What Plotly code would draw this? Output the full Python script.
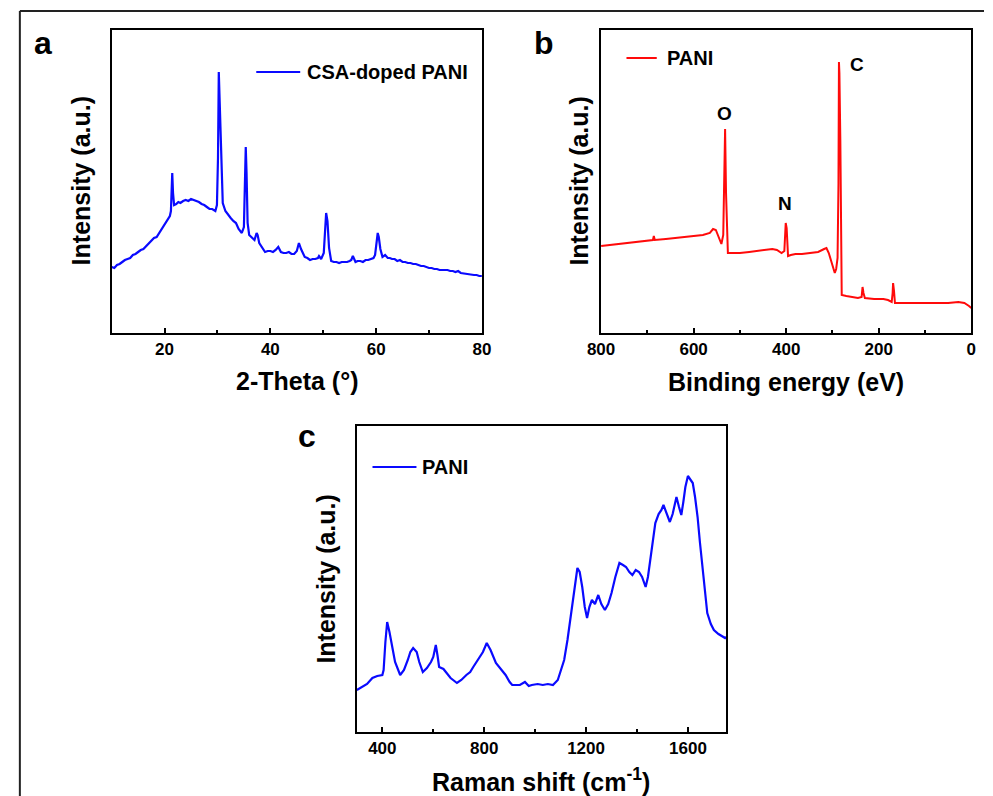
import plotly.graph_objects as go

# ---------------- data ----------------
# (a) XRD, CSA-doped PANI
xrd_theta = [10, 10.5, 11, 11.5, 12, 12.5, 13, 13.5, 14, 14.5, 15, 15.5, 16, 16.5, 17, 17.5, 18, 18.5, 19, 19.5,
             20, 20.5, 21.0, 21.2, 21.35, 21.45, 21.6, 21.8, 22.2, 22.6, 23, 23.5, 24, 24.5, 25, 25.5, 26, 26.5,
             27, 27.5, 28, 28.5, 29, 29.6, 29.9, 30.1, 30.25, 30.35, 30.45, 30.6, 30.8, 31.0, 31.5, 32, 32.5, 33,
             33.5, 34, 34.6, 35.0, 35.2, 35.35, 35.5, 35.7, 36.0, 36.5, 37.0, 37.4, 37.6, 37.9, 38.5, 39, 39.5, 40,
             40.5, 41, 41.5, 42, 42.5, 43, 43.5, 44, 44.5, 45, 45.4, 45.8, 46.5, 47, 47.5, 48, 48.5, 49, 49.2, 49.6,
             50.1, 50.4, 50.55, 50.8, 51.1, 51.5, 52, 52.5, 53, 53.5, 54, 54.5, 55, 55.3, 55.6, 56.1, 56.5, 57,
             57.5, 58, 58.5, 59, 59.5, 59.8, 60.1, 60.3, 60.5, 60.8, 61.2, 61.7, 62.2, 62.6, 63, 63.5, 64, 64.5,
             65, 65.5, 66, 66.5, 67, 67.5, 68, 68.5, 69, 69.5, 70, 70.5, 71, 71.5, 72, 72.5, 73, 73.5, 74, 74.5,
             75, 75.5, 76, 77, 77.5, 78, 78.5, 79, 79.5, 80]
xrd_int = [66, 65, 68, 69, 71, 73, 74, 75, 78, 79, 81, 83, 84, 87, 89, 92, 95, 96, 100, 104,
           108, 112, 117, 122, 150, 160, 140, 128, 129, 131, 130, 132, 133, 132, 134, 133, 132, 131,
           129, 128, 126, 124, 124, 122, 128, 175, 261, 240, 236, 190, 150, 130, 122, 118, 115, 112,
           110, 104, 100, 106, 150, 186, 160, 110, 98, 95, 93, 100, 98, 90, 85, 81, 82, 82,
           81, 83, 86, 81, 80, 80, 81, 79, 79, 82, 90, 84, 76, 75, 73, 74, 74, 75, 77, 74,
           80, 105, 120, 112, 85, 72, 71, 71, 70, 71, 71, 71, 72, 73, 77, 71, 72, 72,
           71, 73, 73, 74, 75, 78, 92, 100, 96, 84, 76, 78, 75, 75, 74, 74, 72, 73,
           71, 71, 70, 70, 69, 69, 68, 67, 67, 66, 65, 65, 64, 64, 63, 63, 63, 63, 62, 62,
           61, 62, 60, 59, 59, 58, 58, 58, 57, 57]

# (b) XPS survey, PANI
xps_be = [800, 780, 760, 740, 720, 700, 688, 686, 684, 660, 640, 620, 600, 580, 565, 558, 552, 545, 540, 536, 534,
          532, 530, 528, 526, 515, 500, 480, 460, 440, 430, 420, 410, 404, 401, 399, 396, 390, 380, 366, 350, 331,
          318, 313, 308, 302, 298, 295, 292, 289, 287, 286, 285, 283, 282, 281, 280, 270, 260, 245, 237, 235, 233,
          230, 210, 190, 180, 172, 170, 169, 167, 165, 150, 120, 80, 50, 28, 15, 5, 0]
xps_int = [87, 88, 89, 90, 91, 92, 93, 97, 93, 94, 95, 96, 97, 98, 100, 104, 103, 95, 89, 98, 150,
           204, 140, 95, 80, 80, 80, 81, 82, 83, 84, 83, 80, 82, 110, 105, 77, 78, 79, 79, 80, 81,
           84, 85, 80, 70, 63, 60, 64, 75, 150, 271, 260, 193, 100, 45, 38, 37, 36, 35, 36, 46, 40,
           35, 34, 34, 33, 31, 40, 50, 42, 30, 30, 30, 30, 30, 31, 30, 27, 25]
xps_peak_labels = ["O", "N", "C"]
xps_peak_pos = [534, 403, 247]
xps_peak_lab_int = [220, 130, 269]

# (c) Raman, PANI
raman_shift = [300, 320, 340, 361, 380, 400, 405, 412, 419, 428, 438, 450, 470, 485, 500, 510, 521, 535, 545, 559,
               575, 591, 600, 610, 617, 623, 640, 655, 668, 693, 710, 730, 745, 757, 770, 782, 795, 810, 825, 846,
               860, 884, 900, 910, 940, 960, 975, 987, 1010, 1030, 1050, 1070, 1089, 1100, 1114, 1127, 1140, 1155,
               1166, 1175, 1185, 1195, 1204, 1213, 1223, 1235, 1248, 1260, 1274, 1287, 1300, 1315, 1331, 1345,
               1357, 1370, 1382, 1395, 1408, 1420, 1434, 1443, 1453, 1462, 1472, 1485, 1496, 1504, 1515, 1529,
               1540, 1548, 1555, 1565, 1574, 1582, 1590, 1600, 1610, 1619, 1628, 1638, 1647, 1657, 1666, 1676,
               1690, 1702, 1720, 1735, 1746, 1750]
raman_int = [42, 45, 48, 54, 56, 57, 62, 90, 110, 100, 85, 70, 57, 62, 72, 80, 84, 80, 70, 60,
             64, 70, 75, 87, 76, 65, 63, 58, 54, 49, 52, 57, 60, 65, 70, 75, 80, 89, 82, 69,
             65, 57, 50, 47, 47, 50, 46, 47, 48, 47, 48, 47, 52, 60, 72, 92, 115, 145,
             164, 160, 145, 125, 114, 125, 132, 128, 137, 128, 122, 128, 139, 155, 169, 167,
             165, 160, 157, 162, 160, 155, 145, 155, 172, 190, 209, 218, 222, 227, 220, 210,
             218, 228, 235, 225, 217, 230, 245, 256, 252, 249, 235, 215, 190, 165, 140, 119,
             108, 102, 98, 96, 94, 95]

xrd_ticks = [20, 40, 60, 80]
xps_ticks = [800, 600, 400, 200, 0]
raman_ticks = [400, 800, 1200, 1600]

# ---------------- layout helpers ----------------
W, H = 993, 796
FONT = "Arial, 'Liberation Sans', Helvetica, sans-serif"
BLUE = "#0a0aff"
RED = "#ff0a0a"


def px(x):
    return x / W


def py(y):
    return 1 - y / H


panels = {
    "a": dict(x0=100, x1=479, y0=30, y1=333),
    "b": dict(x0=601, x1=980, y0=30, y1=333),
    "c": dict(x0=351, x1=729, y0=426, y1=732),
}

fig = go.Figure()
fig.add_trace(go.Scatter(x=xrd_theta, y=xrd_int, mode="lines", line=dict(color=BLUE, width=2.2),
                         name="CSA-doped PANI", xaxis="x", yaxis="y", showlegend=False))
fig.add_trace(go.Scatter(x=xps_be, y=xps_int, mode="lines", line=dict(color=RED, width=2),
                         name="PANI", xaxis="x2", yaxis="y2", showlegend=False))
fig.add_trace(go.Scatter(x=raman_shift, y=raman_int, mode="lines", line=dict(color=BLUE, width=2.2),
                         name="PANI", xaxis="x3", yaxis="y3", showlegend=False))


def xaxis(p, rng, ticks, anchor, minor_dtick):
    return dict(domain=[px(p["x0"]), px(p["x1"])], range=rng, anchor=anchor,
                tickmode="array", tickvals=ticks, ticks="inside", ticklen=5, tickwidth=2,
                tickcolor="black", showline=True, linecolor="black", linewidth=2, mirror=True,
                showgrid=False, zeroline=False,
                tickfont=dict(family=FONT, size=17, color="black", weight="bold"),
                minor=dict(ticks="inside", ticklen=3, tickwidth=2, tickcolor="black", dtick=minor_dtick,
                           showgrid=False))


def yaxis(p, rng, anchor):
    return dict(domain=[py(p["y1"]), py(p["y0"])], range=rng, anchor=anchor,
                showticklabels=False, ticks="", showline=True, linecolor="black", linewidth=2,
                mirror=True, showgrid=False, zeroline=False)


pa, pb, pc = panels["a"], panels["b"], panels["c"]
fig.update_layout(
    width=W, height=H, margin=dict(l=0, r=0, t=0, b=0),
    paper_bgcolor="white", plot_bgcolor="white", showlegend=False,
    xaxis=dict(xaxis(pa, [10, 80], xrd_ticks, "y", 10), tick0=0),
    yaxis=yaxis(pa, [0, 303], "x"),
    xaxis2=dict(xaxis(pb, [800, 0], xps_ticks, "y2", 100), tick0=0),
    yaxis2=yaxis(pb, [0, 303], "x2"),
    xaxis3=dict(xaxis(pc, [300, 1750], raman_ticks, "y3", 200), tick0=0),
    yaxis3=yaxis(pc, [0, 306], "x3"),
)

ann = []
shapes = []


def text(x, y, s, size, xanchor="center", yanchor="middle", angle=0):
    ann.append(dict(x=px(x), y=py(y), xref="paper", yref="paper", text=s, showarrow=False,
                    xanchor=xanchor, yanchor=yanchor, textangle=angle,
                    font=dict(family=FONT, size=size, color="black", weight="bold")))


# panel letters
text(30, 43, "a", 32)
text(543, 43, "b", 32)
text(300, 436, "c", 32)

# axis titles
text(290, 381, "2-Theta (°)", 25)
text(790, 382, "Binding energy (eV)", 25)
text(540, 780, "Raman shift (cm<sup>-1</sup>)", 25)
text(69, 181, "Intensity (a.u.)", 25, angle=-90)
text(578, 181, "Intensity (a.u.)", 25, angle=-90)
text(319, 579, "Intensity (a.u.)", 25, angle=-90)

# peak labels on XPS panel (data coordinates)
for lab, xv, yv in zip(xps_peak_labels, xps_peak_pos, xps_peak_lab_int):
    ann.append(dict(x=xv, y=yv, xref="x2", yref="y2", text=lab, showarrow=False,
                    font=dict(family=FONT, size=19, color="black", weight="bold")))


# legends (manual, to match sample-line length)
def legend(lx0, lx1, ly, tx, label, color):
    shapes.append(dict(type="line", xref="paper", yref="paper", x0=px(lx0), x1=px(lx1), y0=py(ly), y1=py(ly),
                       line=dict(color=color, width=2)))
    text(tx, ly, label, 20, xanchor="left")


legend(248, 293, 72, 298, "CSA-doped PANI", BLUE)
legend(627, 658, 58, 666, "PANI", RED)
legend(367, 412, 467, 416, "PANI", BLUE)

# outer frame (top and left edges visible)
shapes.append(dict(type="line", xref="paper", yref="paper", x0=px(6), x1=1, y0=py(11), y1=py(11),
                   line=dict(color="#222", width=2)))
shapes.append(dict(type="line", xref="paper", yref="paper", x0=px(6), x1=px(6), y0=py(11), y1=0,
                   line=dict(color="#222", width=2)))

fig.update_layout(annotations=ann, shapes=shapes)
fig.write_html("out.html")
